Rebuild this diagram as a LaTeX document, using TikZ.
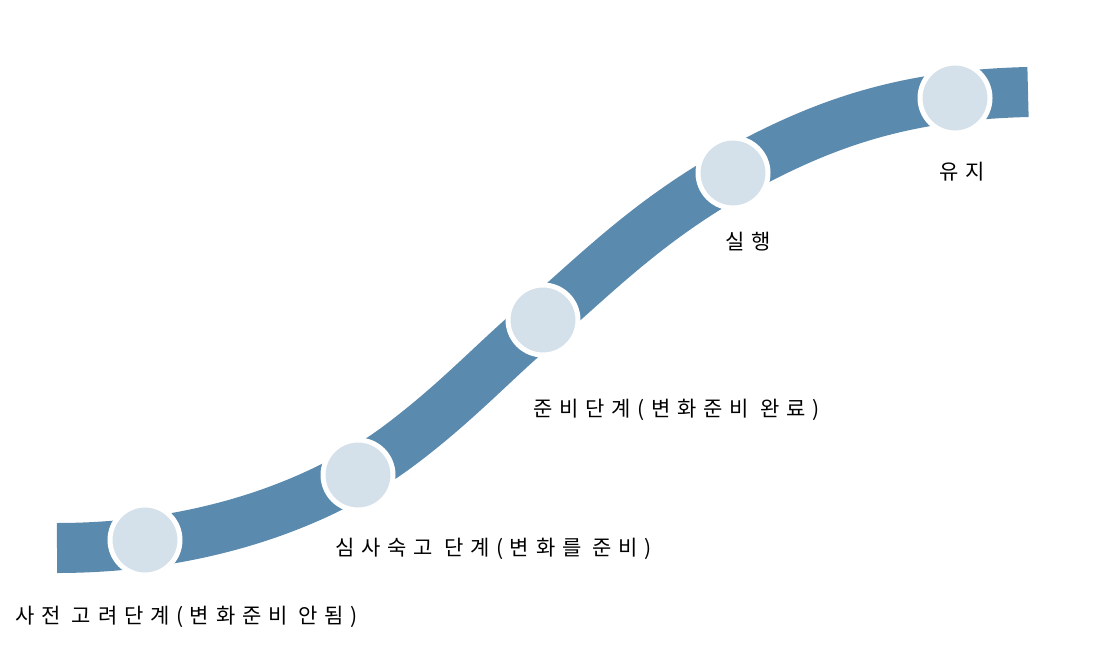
\documentclass[tikz,border=0pt]{standalone}
\usepackage{fontspec}
\newfontfamily\kr[LetterSpace=32]{Noto Sans CJK KR}
\definecolor{band}{HTML}{5A8AAE}
\definecolor{dot}{HTML}{D4E0EA}
\begin{document}
\begin{tikzpicture}[x=1pt,y=-1pt,
  stage/.style={circle,draw=white,line width=5pt,fill=dot,minimum size=70pt,inner sep=0pt},
  lbl/.style={font=\kr\fontsize{21pt}{23pt}\selectfont,inner sep=0pt,anchor=west}]
\useasboundingbox (0,0) rectangle (1111,647);
\coordinate (s) at (57,548);
\coordinate (e) at (1028,92);
\draw[band,line width=50pt,line cap=butt] (s) .. controls (200,548) and (320,505) .. (400,445)
  .. controls (460,400) and (500,355) .. (543,320)
  .. controls (600,270) and (650,220) .. (733,173)
  .. controls (820,125) and (900,95) .. (e);
\node[stage] (c1) at (145,540) {};
\node[stage] (c2) at (358,475) {};
\node[stage] (c3) at (543,320) {};
\node[stage] (c4) at (733,173) {};
\node[stage] (c5) at (955,98) {};
\node[lbl] (t1) at (15,617) {사전 고려단계(변화준비 안됨)};
\node[lbl] (t2) at (335,549) {심사숙고 단계(변화를 준비)};
\node[lbl] (t3) at (533,410) {준비단계(변화준비 완료)};
\node[lbl,anchor=center] (t4) at (748,242) {실행};
\node[lbl,anchor=center] (t5) at (962,172) {유지};
\end{tikzpicture}
\end{document}
